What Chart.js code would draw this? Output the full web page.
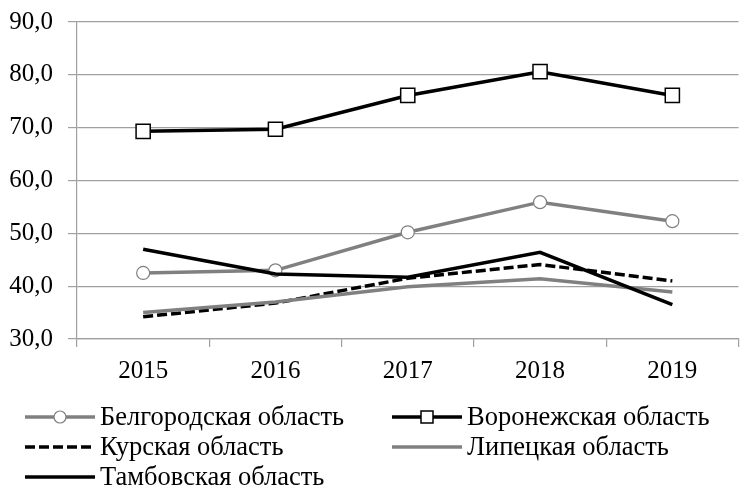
<!DOCTYPE html>
<html lang="ru">
<head>
<meta charset="utf-8">
<script src="https://cdn.jsdelivr.net/npm/chart.js@4/dist/chart.umd.min.js"></script>
<style>
  html, body { margin: 0; padding: 0; background: #fff; overflow: hidden; }
  #wrap { position: relative; width: 750px; height: 492px; }
</style>
</head>
<body>
<div id="wrap"><canvas id="chart"></canvas></div>
<script>
// ── Data ──────────────────────────────────────────────────────────────────────
const years = ['2015', '2016', '2017', '2018', '2019'];
const belgorod = [42.5, 43.0, 50.2, 55.9, 52.3];
const voronezh = [69.3, 69.7, 76.1, 80.6, 76.1];
const kursk    = [34.2, 36.8, 41.5, 44.1, 41.0];
const lipetsk  = [35.0, 37.0, 39.9, 41.4, 38.9];
const tambov   = [47.0, 42.3, 41.7, 46.4, 36.5];
const yTicks   = [30, 40, 50, 60, 70, 80, 90];

const FONT = "'Liberation Serif', 'Times New Roman', serif";
const GREY = '#808080';
const GRID = '#a0a0a0';

Chart.defaults.font.family = FONT;
Chart.defaults.color = '#000';

// ── Legend drawn under the plot in two columns ───────────────────────────────
const legendGrid = {
  id: 'legendGrid',
  afterDraw(chart) {
    const ctx = chart.ctx;
    const cols = [25, 392];
    const rows = [417, 447, 477];
    const sample = 70;
    chart.data.datasets.forEach((ds, i) => {
      const x = cols[i % 2];
      const y = rows[Math.floor(i / 2)];
      ctx.save();
      ctx.strokeStyle = ds.borderColor;
      ctx.lineWidth = ds.borderWidth;
      ctx.setLineDash(ds.borderDash || []);
      ctx.beginPath();
      ctx.moveTo(x, y);
      ctx.lineTo(x + sample, y);
      ctx.stroke();
      ctx.setLineDash([]);
      if (ds.pointRadius > 0) {
        ctx.fillStyle = ds.pointBackgroundColor;
        ctx.strokeStyle = ds.pointBorderColor;
        ctx.lineWidth = ds.pointBorderWidth;
        ctx.beginPath();
        if (ds.pointStyle === 'rect') {
          ctx.rect(x + sample / 2 - 6, y - 6, 12, 12);
        } else {
          ctx.arc(x + sample / 2, y, 6, 0, Math.PI * 2);
        }
        ctx.fill();
        ctx.stroke();
      }
      ctx.fillStyle = '#000';
      ctx.font = '26.5px ' + FONT;
      ctx.textBaseline = 'middle';
      ctx.fillText(ds.label, x + sample + 5, y + 1);
      ctx.restore();
    });
  }
};

function lineSet(label, data, color, extra) {
  return Object.assign({
    label,
    data,
    borderColor: color,
    backgroundColor: color,
    borderWidth: 3.5,
    pointRadius: 0,
    pointHoverRadius: 0,
    tension: 0,
    fill: false
  }, extra);
}

const datasets = [
  lineSet('Белгородская область', belgorod, GREY, {
    pointStyle: 'circle', pointRadius: 6.5, pointBorderWidth: 1.2,
    pointBackgroundColor: '#fff', pointBorderColor: GREY, order: 5
  }),
  lineSet('Воронежская область', voronezh, '#000', {
    pointStyle: 'rect', pointRadius: 10, pointBorderWidth: 1.5,
    pointBackgroundColor: '#fff', pointBorderColor: '#000', order: 4
  }),
  lineSet('Курская область', kursk, '#000', { borderDash: [10, 4], order: 3 }),
  lineSet('Липецкая область', lipetsk, GREY, { order: 2 }),
  lineSet('Тамбовская область', tambov, '#000', { order: 1 })
];

new Chart(document.getElementById('chart'), {
  type: 'line',
  data: { labels: years, datasets },
  options: {
    responsive: true,
    maintainAspectRatio: false,
    animation: false,
    layout: { padding: { top: 22, right: 4, bottom: 0, left: 0 } },
    plugins: { legend: { display: false }, tooltip: { enabled: false } },
    scales: {
      x: {
        offset: true,
        grid: { offset: true, drawOnChartArea: false, drawTicks: true, tickLength: 8, color: GRID, lineWidth: 1.2 },
        border: { color: GRID, width: 1.2 },
        ticks: { font: { size: 25, family: FONT }, color: '#000', padding: 9, maxRotation: 0 },
        afterFit(scale) { scale.height = 153; }
      },
      y: {
        min: 30,
        max: 90,
        afterBuildTicks(scale) { scale.ticks = yTicks.map(v => ({ value: v })); },
        grid: { color: GRID, lineWidth: 1.2, tickLength: 9 },
        border: { color: GRID, width: 1.2 },
        ticks: {
          font: { size: 25, family: FONT },
          color: '#000',
          padding: 15,
          callback: v => v.toFixed(1).replace('.', ',')
        },
        afterFit(scale) {
          scale.width = 77;
          // top label room is covered by the layout padding
          scale.paddingTop = 0;
        }
      }
    }
  },
  plugins: [legendGrid]
});
</script>
</body>
</html>
